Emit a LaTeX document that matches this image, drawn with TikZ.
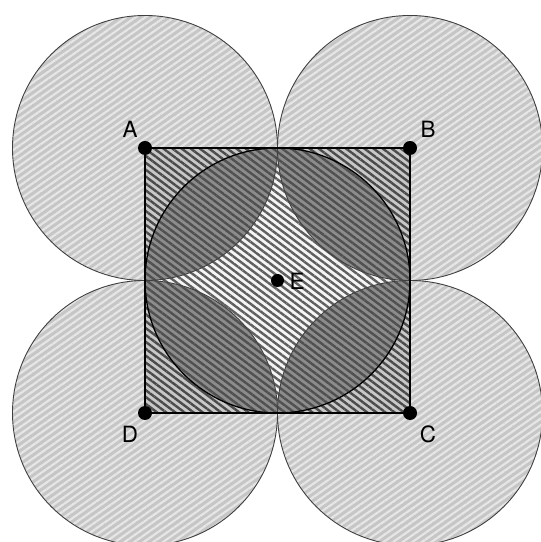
\documentclass[tikz,border=0pt]{standalone}
\usepackage{fontspec}
\setmainfont{TeX Gyre Heros}
\usetikzlibrary{patterns.meta}
\definecolor{outerbg}{RGB}{198,198,198}
\definecolor{outerln}{RGB}{230,230,230}
\definecolor{cornerbg}{RGB}{200,200,200}
\definecolor{cornerln}{RGB}{75,75,75}
\definecolor{lensbg}{RGB}{140,140,140}
\definecolor{lensln}{RGB}{80,80,80}
\definecolor{centerbg}{RGB}{245,245,245}
\definecolor{centerln}{RGB}{95,95,95}
\begin{document}
\begin{tikzpicture}[x=1bp,y=1bp,
  outerfill/.style={fill=outerbg,postaction={pattern={Lines[angle=35,distance=5.5bp,line width=2.2bp]},pattern color=outerln}},
  cornerfill/.style={fill=cornerbg,postaction={pattern={Lines[angle=-37,distance=5.5bp,line width=2.4bp]},pattern color=cornerln}},
  lensfill/.style={fill=lensbg,postaction={pattern={Lines[angle=-37,distance=5.5bp,line width=2.4bp]},pattern color=lensln}},
  centerfill/.style={fill=centerbg,postaction={pattern={Lines[angle=-37,distance=5.5bp,line width=2.4bp]},pattern color=centerln}},
  circline/.style={draw=black!75,line width=0.9bp},
  edgeline/.style={draw=black,line width=1.3bp},
  dot/.style={circle,fill=black,inner sep=0pt,minimum size=14bp},
  lab/.style={font=\fontsize{22.5}{22.5}\selectfont,inner sep=1bp}]
\useasboundingbox (0,0) rectangle (541,542);
\clip (0,0) rectangle (541,542);
\def\rr{132.5}
\coordinate (A) at (145,394);
\coordinate (B) at (410,394);
\coordinate (C) at (410,129);
\coordinate (D) at (145,129);
\coordinate (E) at (277.5,261.5);
\coordinate (T) at (277.5,394);
% outer circles
\foreach \p in {A,B,C,D} \path[outerfill] (\p) circle[radius=\rr];
% square
\path[cornerfill] (A) rectangle (C);
% inscribed circle (lenses)
\path[lensfill] (E) circle[radius=\rr];
% central region
\path[centerfill] (T) arc[start angle=180,end angle=270,radius=\rr]
  arc[start angle=90,end angle=180,radius=\rr]
  arc[start angle=0,end angle=90,radius=\rr]
  arc[start angle=270,end angle=360,radius=\rr] -- cycle;
% outlines
\foreach \p in {A,B,C,D} \draw[circline] (\p) circle[radius=\rr];
\draw[edgeline] (E) circle[radius=\rr];
\draw[edgeline] (A) rectangle (C);
% points
\node[dot] (dA) at (A) {};
\node[dot] (dB) at (B) {};
\node[dot] (dC) at (C) {};
\node[dot] (dD) at (D) {};
\node[dot,minimum size=13bp] (dE) at (E) {};
\node[lab] (lA) at (130,413) {A};
\node[lab] (lB) at (428,413) {B};
\node[lab] (lC) at (428,108) {C};
\node[lab] (lD) at (130,108) {D};
\node[lab] (lE) at (297,261) {E};
\end{tikzpicture}
\end{document}
